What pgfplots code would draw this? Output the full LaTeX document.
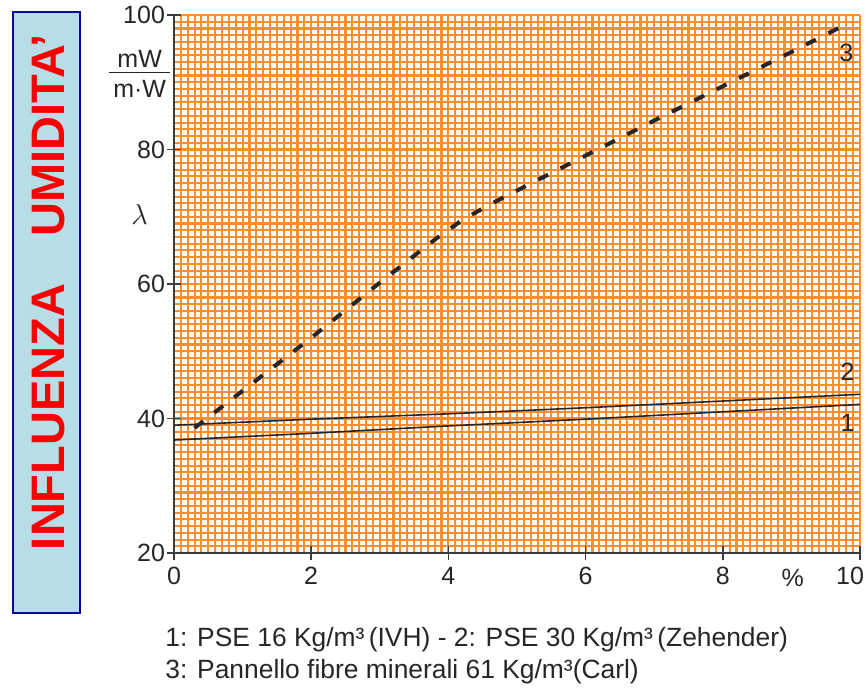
\documentclass[border=0pt]{standalone}
\usepackage{fontspec}
\setmainfont{Liberation Sans}
\usepackage{pgfplots}
\pgfplotsset{compat=1.18}

\definecolor{gridorange}{RGB}{255,140,45}
\definecolor{axisgray}{RGB}{60,60,60}
\definecolor{boxfill}{RGB}{183,222,230}
\definecolor{boxblue}{RGB}{10,10,150}
\definecolor{titlered}{RGB}{250,0,0}

\begin{document}
\begin{tikzpicture}
\useasboundingbox (0,0) rectangle (434pt,-346pt);

% side box
\draw[boxblue, line width=0.8pt, fill=boxfill] (6.5pt,-6pt) rectangle (40pt,-306.5pt);
\node[rotate=90, text=titlered, font=\bfseries\fontsize{23.5}{25}\selectfont]
  at (24.5pt,-146pt) {INFLUENZA\hspace{1em}UMIDITA’};

\begin{axis}[
    at={(87pt,-276.5pt)}, anchor=south west,
    scale only axis,
    width=343pt, height=269pt,
    xmin=0, xmax=10, ymin=20, ymax=100,
    axis x line*=bottom, axis y line*=left,
    axis line style={axisgray, line width=1pt},
    xtick={0,2,...,10}, ytick={20,40,...,100},
    xticklabels={0,2,4,6,8,\hspace{-10pt}10},
    minor x tick num=19, minor y tick num=19,
    grid=both,
    major grid style={gridorange, line width=1.05pt},
    minor grid style={gridorange, line width=1.05pt},
    tick align=center,
    major tick length=7pt, minor tick length=0pt,
    tick style={axisgray, line width=0.8pt},
    ticklabel style={font=\fontsize{12.5}{14}\selectfont, text=black!85},
    yticklabel style={xshift=2.5pt},
    /pgf/number format/assume math mode=true,
    clip=false,
]

% 1: PSE 16 kg/m3 (IVH)
\addplot[black!85, line width=0.8pt] coordinates {
    (0,36.8) (2,37.8) (4,38.9) (6,39.9) (8,41.0) (10,42.1)
};
% 2: PSE 30 kg/m3 (Zehender)
\addplot[black!85, line width=0.8pt] coordinates {
    (0,39.0) (2,39.9) (4,40.7) (6,41.6) (8,42.6) (10,43.6)
};
% 3: pannello fibre minerali
\addplot[black!85, line width=2pt, dash pattern=on 5.5pt off 7pt] coordinates {
    (0.3,38.6) (2,52.0) (3,60.2) (3.8,66.6) (4.2,69.5) (4.6,71.8)
    (5,73.9) (6,79.1) (7,84.3) (8,89.4) (9,94.5) (9.85,98.9)
};

\node[font=\fontsize{12.5}{14}\selectfont, text=black!85] at (axis cs:9.8,94.4) {3};
\node[font=\fontsize{12.5}{14}\selectfont, text=black!85] at (axis cs:9.82,46.9) {2};
\node[font=\fontsize{12.5}{14}\selectfont, text=black!85] at (axis cs:9.82,39.3) {1};
\node[font=\fontsize{12.5}{14}\selectfont, text=black!85, anchor=north] at (axis cs:9.02,20) [yshift=-4.5pt] {\%};

\node[font=\fontsize{13.5}{14}\selectfont, text=black!85] at (axis cs:-0.5,70.3) {$\lambda$};
\node[font=\fontsize{12.5}{14}\selectfont, text=black!85, inner sep=0pt] at (axis cs:-0.5,90.8)
  {\setlength{\tabcolsep}{2pt}\begin{tabular}{c}mW\\[-2pt]\hline\rule{0pt}{12pt}m·W\end{tabular}};
\end{axis}

% caption
\node[anchor=base west, font=\fontsize{13.2}{15}\selectfont, text=black!85, inner sep=0pt]
  at (82.5pt,-323pt) {1: PSE 16 Kg/m³\,(IVH) - 2: PSE 30 Kg/m³\,(Zehender)};
\node[anchor=base west, font=\fontsize{13.2}{15}\selectfont, text=black!85, inner sep=0pt]
  at (82.5pt,-339pt) {3: Pannello fibre minerali 61 Kg/m³(Carl)};
\end{tikzpicture}
\end{document}
